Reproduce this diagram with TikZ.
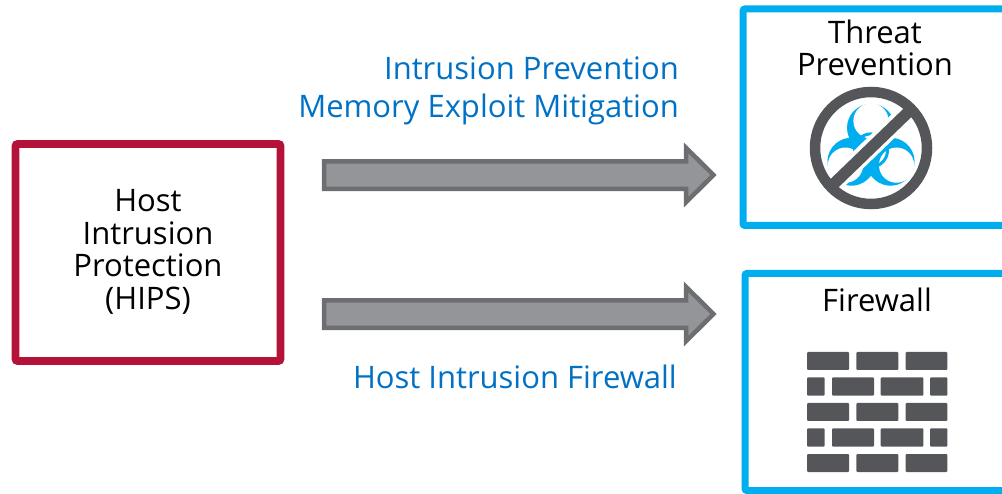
\documentclass[tikz,border=0pt]{standalone}
\usepackage{fontspec}
\setmainfont{Open Sans}
\definecolor{hipsred}{HTML}{B5123A}
\definecolor{skyb}{HTML}{00AEEF}
\definecolor{txtb}{HTML}{0071C5}
\definecolor{icong}{HTML}{54565A}
\definecolor{arrf}{HTML}{939598}
\definecolor{arrl}{HTML}{6D6E71}
\tikzset{
  redbox/.style={draw=hipsred,line width=7.6pt,rounded corners=2pt},
  bluebox/.style={draw=skyb,line width=7pt,rounded corners=2pt},
  blockarr/.style={draw=arrl,fill=arrf,line width=4.5pt,miter limit=10},
  lbl/.style={font=\fontsize{31}{32.7}\selectfont,text=black,align=center,inner sep=0pt},
  bluelbl/.style={font=\fontsize{31}{38}\selectfont,text=txtb,align=right,inner sep=0pt},
  brick/.style={fill=icong,rounded corners=1pt}
}
\newcommand{\brk}[4]{\path[brick] (#1,#3) rectangle (#2,#4);}
\newcommand{\lobeouter}[1]{%
  \begin{scope}[shift={(871,150.4)},rotate=#1]
    \fill[skyb] (0,-22.6) circle[radius=24];
  \end{scope}}
\newcommand{\lobeinner}[1]{%
  \begin{scope}[shift={(871,150.4)},rotate=#1]
    \fill[white] (0,-29.5) circle[radius=17.6];
  \end{scope}}
\begin{document}
\begin{tikzpicture}[x=1pt,y=-1pt]
\useasboundingbox (0,0) rectangle (1002,494);
% boxes
\draw[redbox] (15.5,144) rectangle (280.5,361);
\draw[bluebox] (743,9) -- (1010,9) -- (1010,225.5) -- (743,225.5) -- cycle;
\draw[bluebox] (745,273.5) -- (1010,273.5) -- (1010,490.5) -- (745,490.5) -- cycle;
% labels
\node[lbl] (hips) at (148,252) {Host\\Intrusion\\Protection\\(HIPS)};
\node[lbl] (threat) at (875,48) {Threat\\Prevention};
\node[lbl] (fw) at (877,300) {Firewall};
\node[bluelbl,anchor=base east] (ip) at (679,80) {Intrusion Prevention};
\node[bluelbl,anchor=base east] (mem) at (679,118) {Memory Exploit Mitigation};
\node[bluelbl,anchor=base east] (hif) at (677,389) {Host Intrusion Firewall};
% arrows
\draw[blockarr] (324.2,161.5) -- (686.2,161.5) -- (686.2,148) -- (713.5,175) -- (686.2,202) -- (686.2,188.8) -- (324.2,188.8) -- cycle;
\draw[blockarr] (324.2,300.5) -- (686.2,300.5) -- (686.2,287) -- (713.5,314) -- (686.2,341) -- (686.2,327.8) -- (324.2,327.8) -- cycle;
% biohazard
\lobeouter{0}\lobeouter{120}\lobeouter{240}
\lobeinner{0}\lobeinner{120}\lobeinner{240}
\draw[skyb,line width=3pt] (871,150.4) circle[radius=16.5];
% prohibition sign
\draw[white,line width=19pt] (828,189) -- (914,106);
\draw[icong,line width=10.5pt] (871,148) circle[radius=56];
\draw[icong,line width=11.5pt] (829,188.5) -- (913,107.5);
% bricks
\brk{807}{849}{352}{370}\brk{856.3}{898.3}{352}{370}\brk{905.7}{947.3}{352}{370}
\brk{807}{824.7}{377.3}{395.7}\brk{832}{874}{377.3}{395.7}\brk{880.7}{923.3}{377.3}{395.7}\brk{930}{947.3}{377.3}{395.7}
\brk{807}{849}{403}{421}\brk{856.3}{898.3}{403}{421}\brk{905.7}{947.3}{403}{421}
\brk{807}{824.7}{428.3}{446.7}\brk{832}{874}{428.3}{446.7}\brk{880.7}{923.3}{428.3}{446.7}\brk{930}{947.3}{428.3}{446.7}
\brk{807}{849}{454}{472}\brk{856.3}{898.3}{454}{472}\brk{905.7}{947.3}{454}{472}
\end{tikzpicture}
\end{document}
